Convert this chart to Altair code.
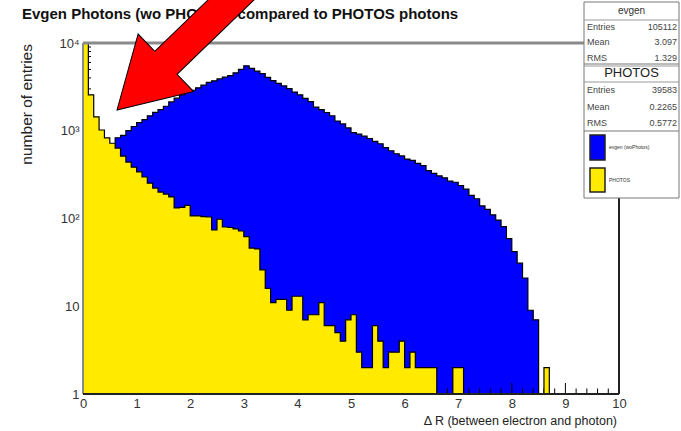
import altair as alt
import pandas as pd

# ---- histogram contents: 100 bins of width 0.1 on [0, 10] ----
dr_bin_low = [round(0.1 * i, 1) for i in range(100)]

evgen_counts = [
    0, 0, 150, 300, 480, 650, 832, 887, 1003, 1118,
    1236, 1342, 1481, 1617, 1745, 1902, 2131, 2352, 2566, 2749,
    2893, 3084, 3306, 3551, 3709, 3897, 4081, 4259, 4577, 5006,
    5489, 5137, 4779, 4472, 4068, 3721, 3460, 3242, 3013, 2761,
    2566, 2339, 2143, 1857, 1744, 1615, 1483, 1291, 1197, 1076,
    951, 915, 868, 816, 755, 711, 643, 592, 547, 516,
    476, 459, 424, 401, 352, 327, 306, 291, 266, 259,
    237, 216, 183, 168, 139, 127, 110, 96, 81, 59,
    42, 31, 21, 9, 7, 0, 0, 0, 0, 0,
    0, 0, 0, 0, 0, 0, 0, 0, 0, 0,
]

photos_counts = [
    27700, 2570, 1440, 1020, 830, 720, 635, 515, 440, 385,
    340, 297, 253, 222, 200, 190, 176, 132, 134, 141,
    107, 107, 105, 104, 74, 98, 80, 79, 76, 72,
    62, 46, 45, 26, 16, 11, 12, 12, 9, 13,
    13, 7, 8, 8, 11, 6, 6, 5, 4, 7,
    8, 3, 2, 2, 6, 4, 2, 3, 3, 4,
    2, 3, 2, 2, 2, 2, 0, 0, 0, 2,
    2, 0, 0, 0, 0, 0, 0, 0, 0, 0,
    0, 0, 0, 0, 0, 0, 2, 0, 0, 0,
    0, 0, 0, 0, 0, 0, 0, 0, 0, 0,
]

# ---- statistics boxes ----
stat_rows = ["Entries", "Mean", "RMS"]
evgen_stats = ["105112", "3.097", "1.329"]
photos_stats = ["39583", "0.2265", "0.5772"]
legend_labels = ["evgen (woPhotos)", "PHOTOS"]

# ---- axis ticks ----
x_major = list(range(11))
x_minor = [round(0.2 * i, 1) for i in range(51) if i % 5 != 0]
y_major = [1, 10, 100, 1000, 10000]
y_minor = [m * 10 ** e for e in range(4) for m in range(2, 10)]

W, H = 536, 351
FONT = "Liberation Sans"
BLUE = "#0000ff"
YELLOW = "#ffea00"

xs = alt.Scale(domain=[0, 10], nice=False, zero=False)
ys = alt.Scale(type="log", domain=[1, 10000], nice=False)
xa = alt.Axis(values=x_major, ticks=False, domain=False, grid=False,
              labelFont=FONT, labelFontSize=13, labelColor="#333",
              labelPadding=3, labelFlush=False, labelOverlap=False, title=None)
ya = alt.Axis(values=y_major, ticks=False, domain=False, grid=False,
              labelFont=FONT, labelFontSize=13, labelColor="#333",
              labelPadding=4, labelFlush=False, labelOverlap=False, title=None,
              labelExpr="datum.value == 1 ? '1' : datum.value == 10 ? '10' : "
                        "datum.value == 100 ? '10²' : datum.value == 1000 ? '10³' : '10⁴'")


def X(field):
    return alt.X(field, scale=xs, axis=xa)


def Y(field):
    return alt.Y(field, scale=ys, axis=ya)


one = pd.DataFrame({"k": [0]})


def step_table(counts):
    # bin lower edges plus the closing edge; empty bins sit on the axis floor
    return pd.DataFrame({
        "lo": dr_bin_low + [10.0],
        "n": [max(c, 1) for c in counts] + [1],
        "base": 1,
    })


def histogram(counts, color):
    step = step_table(counts)
    fill = alt.Chart(step).mark_area(
        interpolate="step-after", color=color, clip=True, opacity=1
    ).encode(x=X("lo:Q"), y=Y("n:Q"), y2="base:Q")
    outline = alt.Chart(step).mark_line(
        interpolate="step-after", color="black", strokeWidth=1.2, clip=True
    ).encode(x=X("lo:Q"), y=Y("n:Q"))
    return fill, outline


blue_fill, blue_line = histogram(evgen_counts, BLUE)
yel_fill, yel_line = histogram(photos_counts, YELLOW)

# inward tick marks (drawn over the first histogram, under the second)
x_ticks = [
    alt.Chart(pd.DataFrame({"v": x_major})).mark_rule(color="black", strokeWidth=1).encode(
        x=X("v:Q"), y=alt.value(H), y2=alt.value(H - 11)),
    alt.Chart(pd.DataFrame({"v": x_minor})).mark_rule(color="black", strokeWidth=1).encode(
        x=X("v:Q"), y=alt.value(H), y2=alt.value(H - 5.5)),
]
y_ticks = [
    alt.Chart(pd.DataFrame({"v": y_major})).mark_rule(color="black", strokeWidth=1).encode(
        y=Y("v:Q"), x=alt.value(0), x2=alt.value(16)),
    alt.Chart(pd.DataFrame({"v": y_minor})).mark_rule(color="black", strokeWidth=1).encode(
        y=Y("v:Q"), x=alt.value(0), x2=alt.value(8)),
]


def hline(x1, x2, y, color, w):
    return alt.Chart(one).mark_rule(color=color, strokeWidth=w).encode(
        x=alt.value(x1), x2=alt.value(x2), y=alt.value(y))


def vline(x, y1, y2, color, w):
    return alt.Chart(one).mark_rule(color=color, strokeWidth=w).encode(
        x=alt.value(x), y=alt.value(y1), y2=alt.value(y2))


def box(x1, x2, y1, y2, fill, stroke, w=1):
    return alt.Chart(one).mark_rect(fill=fill, stroke=stroke, strokeWidth=w).encode(
        x=alt.value(x1), x2=alt.value(x2), y=alt.value(y1), y2=alt.value(y2))


def label(text, x, y, size, align="left", color="#333", weight="normal", angle=0):
    return alt.Chart(one).mark_text(
        text=text, font=FONT, fontSize=size, align=align, baseline="middle",
        color=color, fontWeight=weight, angle=angle,
    ).encode(x=alt.value(x), y=alt.value(y))


frame = [
    hline(0, 501, 0, "#8a8a8a", 3),
    vline(0, 0, H, "#8a8a8a", 2),
    hline(0, W, H, "#222", 2),
    vline(W, 155, H, "#222", 2),
]

# statistics boxes and legend, top right
BX1, BX2 = 501, 596
stats = [
    box(BX1, BX2, -41, 155, "white", "#777"),
    hline(BX1, BX2, -23, "#999", 1),
    hline(BX1, BX2, 21, "#777", 1),
    hline(BX1, BX2, 23, "#999", 1),
    hline(BX1, BX2, 39, "#999", 1),
    hline(BX1, BX2, 88, "#777", 1),
    label("evgen", 548.5, -32, 10, align="center"),
    label("PHOTOS", 548.5, 30, 13, align="center", color="#222"),
]
for name, val, yy in zip(stat_rows, evgen_stats, [-16, -1, 15]):
    stats.append(label(name, 504, yy, 9, color="#444"))
    stats.append(label(val, 594, yy, 9, align="right", color="#444"))
for name, val, yy in zip(stat_rows, photos_stats, [47, 64, 80]):
    stats.append(label(name, 504, yy, 9, color="#444"))
    stats.append(label(val, 594, yy, 9, align="right", color="#444"))
stats += [
    box(507, 522, 92, 117, BLUE, "#222", 1.5),
    box(507, 522, 125, 149, YELLOW, "#222", 1.5),
    label(legend_labels[0], 526, 104, 5),
    label(legend_labels[1], 526, 137, 5),
]

texts = [
    label("Evgen Photons (wo PHOTOS) compared to PHOTOS photons", -61, -29, 15,
          weight="bold", color="#111"),
    label("Δ R (between electron and photon)", 534, 378, 12.5, align="right", color="#222"),
    label("number of entries", -56, 1, 15.5, align="right", color="#222", angle=270),
]

# red annotation arrow pointing at the low-ΔR region (tip anchored in data units)
arrow_tip = pd.DataFrame({"dr": [0.634], "n": [1722]})
arrow_path = "M0,0 L40,68 L16,68 L16,280 L-16,280 L-16,68 L-40,68 Z"
arrow = alt.Chart(arrow_tip).mark_point(
    shape=arrow_path, size=4, filled=True, fill="#ff0000", stroke="black",
    strokeWidth=1, angle=226, opacity=1, fillOpacity=1,
).encode(x=X("dr:Q"), y=Y("n:Q"))

chart = alt.layer(
    blue_fill, blue_line, *x_ticks, *y_ticks, yel_fill, yel_line,
    *frame, *stats, *texts, arrow,
).properties(
    width=W, height=H,
    padding={"left": 83, "top": 43, "right": 62, "bottom": 37},
    autosize=alt.AutoSizeParams(type="none"),
).configure_view(stroke=None).configure(background="white")

chart.save("out.html", embed_options={"renderer": "svg", "actions": False})
